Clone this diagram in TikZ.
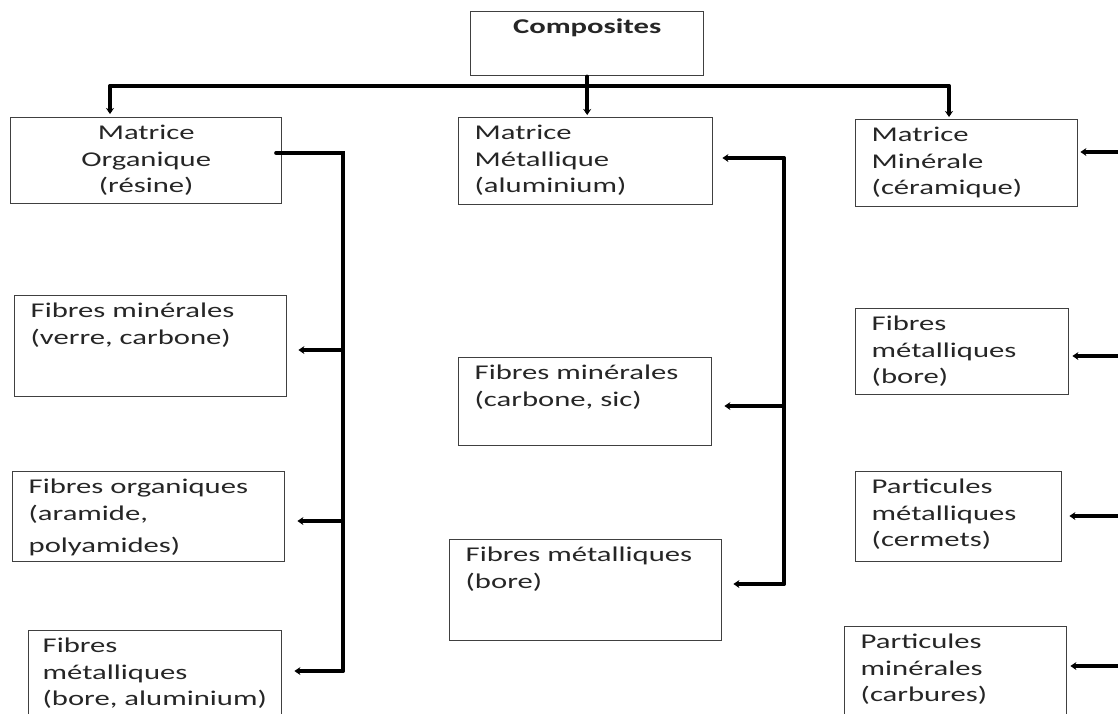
\documentclass[tikz,border=0pt]{standalone}
\usepackage{fontspec}
\setmainfont{Carlito}[FakeStretch=1.46]
\usetikzlibrary{arrows.meta}

\begin{document}
\begin{tikzpicture}[
    x=1pt, y=1pt,
    >={Stealth[length=6pt,width=8pt]},
    every node/.style={font=\fontsize{21}{26.5}\selectfont, text=black!85},
    box/.style={draw=black!75, line width=1.4pt, rectangle, anchor=north west, align=left,
        inner xsep=16pt, inner ysep=7pt, text height=15pt},
    head/.style={box, align=center},
    link/.style={line width=3.6pt, line cap=round, black},
    arr/.style={link, ->}
]
\useasboundingbox (0,0) rectangle (1118,-713);
\clip (0,0) rectangle (1118,-713);

\node[head, text width=201pt, text depth=35pt] (comp) at (470,-11) {\textbf{Composites}};

\node[head, text width=239pt, text depth=57pt] (mo) at (10,-117) {Matrice\\Organique\\(résine)};
\node[box, text width=222pt, text depth=58pt] (mm) at (458,-117) {Matrice\\Métallique\\(aluminium)};
\node[box, text width=190pt, text depth=58pt] (mn) at (855,-119) {Matrice\\Minérale\\(céramique)};

\node[box, text width=240pt, text depth=72pt] (fmo1) at (14,-295) {Fibres minérales\\(verre, carbone)};
\node[box, text width=240pt, text depth=61pt] (fmo2) at (12,-471) {Fibres organiques\\(aramide,\\[6pt]polyamides)};
\node[box, text width=225pt, inner xsep=14pt, text depth=71pt] (fmo3) at (28,-630) {Fibres\\métalliques\\(bore, aluminium)};

\node[box, text width=221pt, text depth=59pt] (fmm1) at (458,-357) {Fibres minérales\\(carbone, sic)};
\node[box, text width=240pt, text depth=72pt] (fmm2) at (449,-539) {Fibres métalliques\\(bore)};

\node[box, text width=181pt, text depth=57pt] (fmn1) at (855,-308) {Fibres\\métalliques\\(bore)};
\node[box, text width=174pt, text depth=61pt] (fmn2) at (855,-471) {Particules\\métalliques\\(cermets)};
\node[box, text width=190pt, text depth=71pt] (fmn3) at (844,-626) {Particules\\minérales\\(carbures)};

% top bus
\coordinate (busL) at (110,-86);
\coordinate (busR) at (949,-86);
\draw[link] (busL) -- (busR);
\draw[arr, shorten >=3pt] (busL) -- (busL |- mo.north);
\draw[arr, shorten >=2pt] (comp.south) -- (comp.south |- mm.north);
\draw[arr, shorten >=2pt] (busR) -- (busR |- mn.north);

% organic branch
\coordinate (oL) at (276,-153);
\coordinate (vL) at (343,-153);
\coordinate (l1) at (343,-350);
\coordinate (l2) at (343,-521);
\coordinate (l3) at (343,-671);
\draw[link] (oL) -- (vL) -- (l3);
\draw[arr, shorten >=11pt] (l1) -- (l1 -| fmo1.east);
\draw[arr, shorten >=12pt] (l2) -- (l2 -| fmo2.east);
\draw[arr, shorten >=12pt] (l3) -- (l3 -| fmo3.east);

% metallic branch
\coordinate (vM) at (784,-158);
\coordinate (m1) at (784,-406);
\coordinate (m2) at (784,-584);
\draw[link] (vM) -- (m2);
\draw[arr, shorten >=9pt] (vM) -- (vM -| mm.east);
\draw[arr, shorten >=12pt] (m1) -- (m1 -| fmm1.east);
\draw[arr, shorten >=11pt] (m2) -- (m2 -| fmm2.east);

% mineral branch
\coordinate (r0) at (1120,-152);
\coordinate (r1) at (1120,-356);
\coordinate (r2) at (1120,-516);
\coordinate (r3) at (1120,-666);
\coordinate (rEnd) at (1120,-713);
\draw[link] (r0) -- (rEnd);
\draw[arr, shorten >=2pt] (r0) -- (r0 -| mn.east);
\draw[arr, shorten >=3pt] (r1) -- (r1 -| fmn1.east);
\draw[arr, shorten >=7pt] (r2) -- (r2 -| fmn2.east);
\draw[arr, shorten >=3pt] (r3) -- (r3 -| fmn3.east);
\end{tikzpicture}
\end{document}
